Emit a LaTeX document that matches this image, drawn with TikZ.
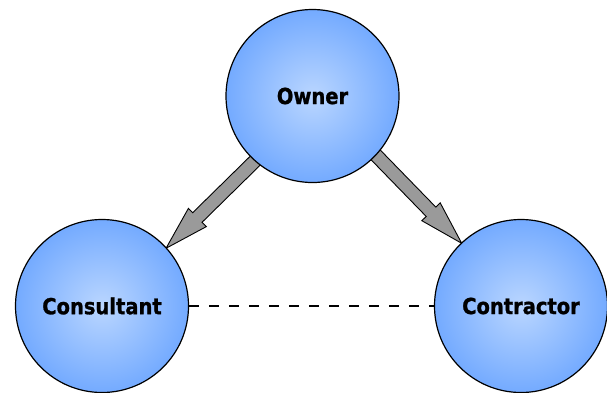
\documentclass[tikz,border=0pt]{standalone}
\usepackage{fontspec}
\setmainfont{DejaVu Sans}[BoldFeatures={FakeBold=1.2}]
\usetikzlibrary{calc}
\definecolor{cin}{HTML}{BAD6FF}
\definecolor{cout}{HTML}{63A0FF}
\definecolor{agray}{HTML}{9A9A9A}
\pgfdeclareradialshading{ballblue}{\pgfpoint{0bp}{0bp}}{color(0bp)=(cin); color(31bp)=(cout); color(50bp)=(cout)}
\newcommand{\tallbox}[1]{\scalebox{1}[1.13]{#1}}
\tikzset{
  party/.style={circle, draw=black, line width=1.2pt, shading=ballblue, minimum size=173pt, inner sep=0pt,
    font=\fontsize{19.5}{22}\selectfont\bfseries},
  barrow/.style={draw=black, line width=0.9pt, fill=agray, line join=miter},
  link/.style={line width=1.9pt, dash pattern=on 10pt off 10pt}
}
\newcommand{\blockarrow}[2]{%
  \coordinate (H) at ($(#2)!44pt!(#1)$);
  \draw[barrow] ($(#1)!6.7pt!90:(#2)$) -- ($(H)!6.7pt!-90:(#1)$) -- ($(H)!12.8pt!-90:(#1)$)
    -- (#2) -- ($(H)!12.8pt!90:(#1)$) -- ($(H)!6.7pt!90:(#1)$) -- ($(#1)!6.7pt!-90:(#2)$) -- cycle;
}
\begin{document}
\begin{tikzpicture}[x=1pt,y=-1pt]
\useasboundingbox (0,0) rectangle (607,392);
\clip (0,0) rectangle (607,392);
% arrows (drawn first, tails under the circle)
\coordinate (t1) at (262,154);
\coordinate (p1) at (166,248.3);
\coordinate (t2) at (368,147);
\coordinate (p2) at (461.7,243.3);
\blockarrow{t1}{p1}
\blockarrow{t2}{p2}
% circles
\node[party] (owner) at (312.5,96) {\tallbox{Owner}};
\node[party] (consultant) at (102,306) {\tallbox{Consultant}};
\node[party] (contractor) at (521,306) {\tallbox{Contractor}};
\draw[link] (consultant.east) -- (contractor.west);
\end{tikzpicture}
\end{document}
